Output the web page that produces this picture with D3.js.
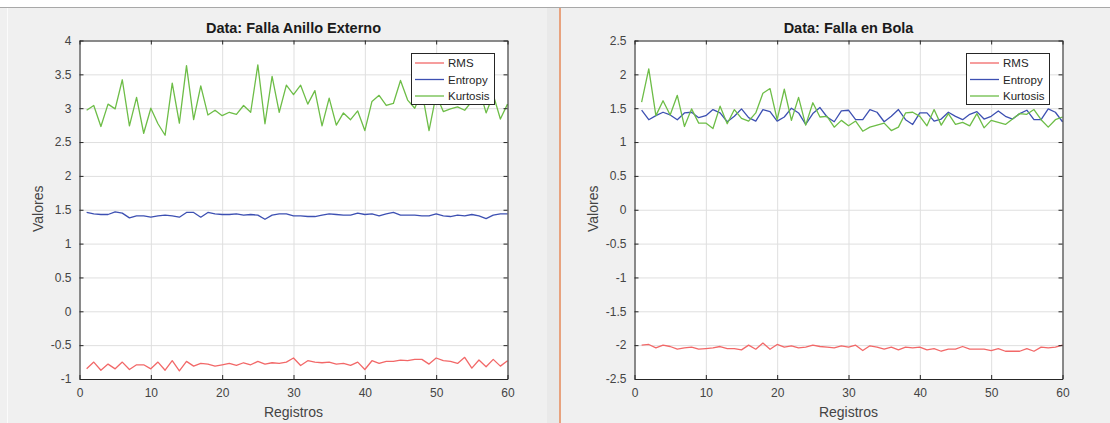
<!DOCTYPE html>
<html>
<head>
<meta charset="utf-8">
<script src="https://cdn.jsdelivr.net/npm/d3@7"></script>
<style>
  body { margin: 0; background: #fff; }
  svg { display: block; font-family: 'Liberation Sans', Arial, sans-serif; }
</style>
</head>
<body>
<svg id="chart"></svg>
<script>
// Data: 60 records per dataset
const anilloRms = [-0.85, -0.75, -0.87, -0.78, -0.85, -0.75, -0.86, -0.79, -0.79, -0.85,
  -0.75, -0.87, -0.73, -0.88, -0.74, -0.81, -0.77, -0.78, -0.81, -0.79,
  -0.77, -0.80, -0.76, -0.79, -0.74, -0.78, -0.76, -0.77, -0.75, -0.69,
  -0.80, -0.73, -0.75, -0.76, -0.75, -0.78, -0.77, -0.80, -0.75, -0.86,
  -0.73, -0.77, -0.74, -0.74, -0.72, -0.73, -0.71, -0.71, -0.78, -0.69,
  -0.73, -0.74, -0.77, -0.68, -0.84, -0.72, -0.82, -0.71, -0.81, -0.73];
const anilloEntropy = [1.46, 1.44, 1.43, 1.43, 1.47, 1.45, 1.38, 1.41, 1.41, 1.39,
  1.41, 1.42, 1.41, 1.39, 1.46, 1.46, 1.39, 1.46, 1.44, 1.43,
  1.43, 1.44, 1.42, 1.43, 1.42, 1.36, 1.42, 1.44, 1.44, 1.41,
  1.41, 1.40, 1.40, 1.42, 1.44, 1.43, 1.42, 1.42, 1.45, 1.43,
  1.44, 1.41, 1.44, 1.46, 1.42, 1.42, 1.42, 1.41, 1.41, 1.44,
  1.41, 1.40, 1.42, 1.41, 1.43, 1.41, 1.37, 1.42, 1.44, 1.44];
const anilloKurtosis = [2.97, 3.04, 2.73, 3.06, 2.99, 3.42, 2.74, 3.16, 2.63, 3.00,
  2.77, 2.60, 3.37, 2.78, 3.63, 2.83, 3.33, 2.90, 2.97, 2.89,
  2.94, 2.91, 3.04, 2.94, 3.64, 2.77, 3.47, 2.94, 3.34, 3.20,
  3.34, 3.06, 3.26, 2.74, 3.15, 2.75, 2.93, 2.83, 2.96, 2.67,
  3.10, 3.19, 3.04, 3.07, 3.41, 3.12, 3.00, 3.25, 2.67, 3.20,
  2.95, 2.99, 3.02, 2.97, 3.10, 3.30, 2.93, 3.20, 2.84, 3.06];

const bolaRms = [-2.00, -1.99, -2.04, -2.00, -2.02, -2.06, -2.04, -2.03, -2.06, -2.05,
  -2.04, -2.02, -2.05, -2.05, -2.07, -2.00, -2.06, -1.97, -2.06, -1.99,
  -2.03, -2.01, -2.04, -2.03, -2.00, -2.02, -2.03, -2.04, -2.01, -2.03,
  -2.00, -2.08, -2.01, -2.03, -2.06, -2.03, -2.07, -2.03, -2.04, -2.03,
  -2.07, -2.05, -2.09, -2.06, -2.06, -2.02, -2.06, -2.06, -2.06, -2.08,
  -2.05, -2.09, -2.09, -2.09, -2.05, -2.09, -2.03, -2.04, -2.03, -2.00];
const bolaEntropy = [1.47, 1.33, 1.39, 1.44, 1.40, 1.33, 1.43, 1.44, 1.36, 1.39,
  1.48, 1.43, 1.30, 1.38, 1.49, 1.36, 1.31, 1.48, 1.45, 1.31,
  1.37, 1.50, 1.43, 1.26, 1.42, 1.51, 1.37, 1.30, 1.46, 1.47,
  1.33, 1.33, 1.48, 1.44, 1.30, 1.38, 1.48, 1.33, 1.26, 1.43,
  1.43, 1.31, 1.34, 1.44, 1.38, 1.33, 1.41, 1.45, 1.34, 1.38,
  1.46, 1.38, 1.34, 1.42, 1.47, 1.33, 1.33, 1.49, 1.44, 1.30];
const bolaKurtosis = [1.59, 2.08, 1.39, 1.61, 1.40, 1.69, 1.23, 1.49, 1.28, 1.28,
  1.20, 1.53, 1.27, 1.48, 1.35, 1.31, 1.43, 1.72, 1.79, 1.33,
  1.78, 1.32, 1.66, 1.25, 1.58, 1.37, 1.38, 1.22, 1.32, 1.24,
  1.31, 1.16, 1.22, 1.25, 1.28, 1.17, 1.22, 1.43, 1.44, 1.38,
  1.24, 1.48, 1.25, 1.42, 1.26, 1.29, 1.24, 1.42, 1.21, 1.32,
  1.29, 1.26, 1.34, 1.42, 1.41, 1.48, 1.33, 1.22, 1.33, 1.37];

const seriesNames = ['RMS', 'Entropy', 'Kurtosis'];
const xTicks = [0, 10, 20, 30, 40, 50, 60];
const anilloYTicks = [-1, -0.5, 0, 0.5, 1, 1.5, 2, 2.5, 3, 3.5, 4];
const bolaYTicks = [-2.5, -2, -1.5, -1, -0.5, 0, 0.5, 1, 1.5, 2, 2.5];

const colors = { RMS: '#f26868', Entropy: '#3d50b2', Kurtosis: '#6dbd47' };

const width = 1110;
const height = 423;

const svg = d3.select('#chart')
  .attr('width', width)
  .attr('height', height);

// figure background (MATLAB-like window panels)
svg.append('rect').attr('x', 0).attr('y', 7).attr('width', width).attr('height', height - 7).attr('fill', '#f0f0f0');
svg.append('line').attr('x1', 0).attr('x2', width).attr('y1', 7.5).attr('y2', 7.5).attr('stroke', '#a8a8a8');
svg.append('line').attr('x1', 7.5).attr('x2', 7.5).attr('y1', 8).attr('y2', height).attr('stroke', '#fbfbfb');
svg.append('rect').attr('x', 547).attr('y', 8).attr('width', 12).attr('height', height - 8).attr('fill', '#e9e9e9');
svg.append('rect').attr('x', 559).attr('y', 8).attr('width', 2).attr('height', height - 8).attr('fill', '#e8a27e');

function drawPanel(opts) {
  const { left, right, top, bottom, title, yTicks, yDomain, data, legendX } = opts;
  const innerWidth = right - left;
  const innerHeight = bottom - top;

  const g = svg.append('g').attr('transform', `translate(${left}, ${top})`);

  const xScale = d3.scaleLinear().domain([0, 60]).range([0, innerWidth]);
  const yScale = d3.scaleLinear().domain(yDomain).range([innerHeight, 0]);

  g.append('rect')
    .attr('width', innerWidth)
    .attr('height', innerHeight)
    .attr('fill', '#fff');

  // grid
  g.append('g')
    .attr('class', 'x-grid')
    .attr('transform', `translate(0, ${innerHeight})`)
    .call(d3.axisBottom(xScale).tickValues(xTicks).tickSize(-innerHeight).tickFormat(''))
    .call(s => s.select('.domain').remove())
    .selectAll('line').attr('stroke', '#dfdfdf');
  g.append('g')
    .attr('class', 'y-grid')
    .call(d3.axisLeft(yScale).tickValues(yTicks).tickSize(-innerWidth).tickFormat(''))
    .call(s => s.select('.domain').remove())
    .selectAll('line').attr('stroke', '#dfdfdf');

  // lines
  const lineGen = d3.line()
    .x((d, i) => xScale(i + 1))
    .y(d => yScale(d));

  seriesNames.forEach(name => {
    g.append('path')
      .datum(data[name])
      .attr('fill', 'none')
      .attr('stroke', colors[name])
      .attr('stroke-width', 1.3)
      .attr('stroke-linejoin', 'round')
      .attr('d', lineGen);
  });

  const fmt = d => String(d);
  const axisColor = '#262626';

  const styleAxis = s => {
    s.select('.domain').attr('stroke', axisColor);
    s.selectAll('.tick line').attr('stroke', axisColor);
    s.selectAll('.tick text').attr('fill', '#444').style('font-size', '12px')
      .style('font-family', "'Liberation Sans', Arial, sans-serif");
  };

  g.append('g')
    .attr('class', 'x-axis')
    .attr('transform', `translate(0, ${innerHeight})`)
    .call(d3.axisBottom(xScale).tickValues(xTicks).tickSizeInner(-4).tickSizeOuter(0).tickPadding(9).tickFormat(fmt))
    .call(styleAxis);
  g.append('g')
    .attr('class', 'x-axis-top')
    .call(d3.axisTop(xScale).tickValues(xTicks).tickSizeInner(-4).tickSizeOuter(0).tickFormat(''))
    .call(styleAxis);
  g.append('g')
    .attr('class', 'y-axis')
    .call(d3.axisLeft(yScale).tickValues(yTicks).tickSizeInner(-4).tickSizeOuter(0).tickPadding(8).tickFormat(fmt))
    .call(styleAxis);
  g.append('g')
    .attr('class', 'y-axis-right')
    .attr('transform', `translate(${innerWidth}, 0)`)
    .call(d3.axisRight(yScale).tickValues(yTicks).tickSizeInner(-4).tickSizeOuter(0).tickFormat(''))
    .call(styleAxis);

  // title and labels
  g.append('text')
    .attr('x', innerWidth / 2)
    .attr('y', -8)
    .attr('text-anchor', 'middle')
    .style('font-size', '14.5px')
    .style('font-weight', 'bold')
    .attr('fill', '#1a1a1a')
    .text(title);

  g.append('text')
    .attr('x', innerWidth / 2)
    .attr('y', innerHeight + 38)
    .attr('text-anchor', 'middle')
    .style('font-size', '14px')
    .attr('fill', '#444')
    .text('Registros');

  g.append('text')
    .attr('transform', 'rotate(-90)')
    .attr('x', -innerHeight / 2 + 1)
    .attr('y', -37)
    .attr('text-anchor', 'middle')
    .style('font-size', '14px')
    .attr('fill', '#444')
    .text('Valores');

  // legend
  const legend = svg.append('g')
    .attr('class', 'legend')
    .attr('transform', `translate(${legendX}, 53)`);

  legend.append('rect')
    .attr('x', 0.5)
    .attr('y', 0.5)
    .attr('width', 83)
    .attr('height', 51)
    .attr('fill', '#fff')
    .attr('stroke', axisColor);

  const items = legend.selectAll('.legend-item')
    .data(seriesNames)
    .join('g')
    .attr('class', 'legend-item')
    .attr('transform', (d, i) => `translate(0, ${10 + i * 16.5})`);

  items.append('line')
    .attr('x1', 4)
    .attr('x2', 33)
    .attr('stroke', d => colors[d])
    .attr('stroke-width', 1.3);

  items.append('text')
    .attr('x', 37)
    .attr('y', 4)
    .style('font-size', '11.5px')
    .attr('fill', '#262626')
    .text(d => d);
}

drawPanel({
  left: 79.5, right: 507.5, top: 40.5, bottom: 379,
  title: 'Data: Falla Anillo Externo',
  yTicks: anilloYTicks, yDomain: [-1, 4],
  data: { RMS: anilloRms, Entropy: anilloEntropy, Kurtosis: anilloKurtosis },
  legendX: 411
});

drawPanel({
  left: 634.5, right: 1062.5, top: 40.5, bottom: 379,
  title: 'Data: Falla en Bola',
  yTicks: bolaYTicks, yDomain: [-2.5, 2.5],
  data: { RMS: bolaRms, Entropy: bolaEntropy, Kurtosis: bolaKurtosis },
  legendX: 966
});
</script>
</body>
</html>
